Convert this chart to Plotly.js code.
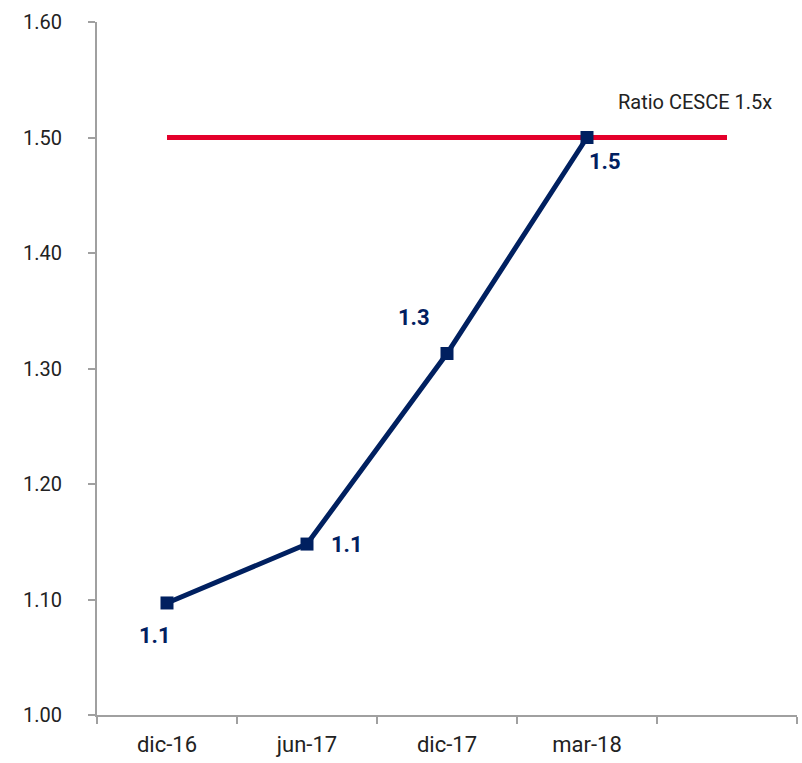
<!DOCTYPE html>
<html>
<head>
<meta charset="utf-8">
<script src="https://cdn.plot.ly/plotly-3.0.1.min.js"></script>
<style>html,body{margin:0;padding:0;background:#fff}#chart{width:802px;height:763px}</style>
</head>
<body>
<div id="chart"></div>
<script>
const categories = ['dic-16', 'jun-17', 'dic-17', 'mar-18', ' '];
const ratioValues = [1.097, 1.148, 1.313, 1.50];
const ratioLabels = ['1.1', '1.1', '1.3', '1.5'];
const cesceLevel = [1.5, 1.5, 1.5, 1.5, 1.5];
const cesceLabel = 'Ratio CESCE 1.5x';
const yTicks = [1.0, 1.1, 1.2, 1.3, 1.4, 1.5, 1.6];

const navy = '#002060';
const red = '#e4002b';
const font = 'Roboto, "DejaVu Sans", sans-serif';

const traces = [
  {
    x: categories, y: cesceLevel, type: 'scatter', mode: 'lines',
    line: {color: red, width: 5}, hoverinfo: 'skip'
  },
  {
    x: categories.slice(0, ratioValues.length), y: ratioValues, type: 'scatter', mode: 'lines+markers',
    line: {color: navy, width: 5}, marker: {symbol: 'square', size: 13, color: navy}
  }
];

const offsets = [[-12, -33], [40, 0], [-33, 36], [18, -24]];
const annotations = ratioValues.map((v, i) => ({
  x: categories[i], y: v, text: '<b>' + ratioLabels[i] + '</b>', showarrow: false,
  xshift: offsets[i][0], yshift: offsets[i][1],
  font: {family: font, size: 22, color: navy}
}));
annotations.push({
  x: categories[4], y: cesceLevel[4], text: cesceLabel, showarrow: false,
  xanchor: 'right', xshift: 47, yshift: 36,
  font: {family: font, size: 20, color: '#222'}
});

const layout = {
  width: 802, height: 763,
  margin: {l: 97, r: 5, t: 22, b: 48},
  paper_bgcolor: '#fff', plot_bgcolor: '#fff',
  showlegend: false,
  font: {family: font, size: 20, color: '#222'},
  xaxis: {
    type: 'category', categoryorder: 'array', categoryarray: categories,
    range: [-0.5, 4.5], showgrid: false, zeroline: false,
    showline: true, linecolor: '#a0a0a0', linewidth: 2,
    ticks: 'outside', tickson: 'boundaries', ticklen: 7, tickcolor: '#a0a0a0', tickwidth: 2,
    tickfont: {family: font, size: 22, color: '#222'}, ticklabelstandoff: 9
  },
  yaxis: {
    range: [1.0, 1.6], tickvals: yTicks, tickformat: '.2f',
    showgrid: false, zeroline: false,
    showline: true, linecolor: '#a0a0a0', linewidth: 2,
    ticks: 'outside', ticklen: 7, tickcolor: '#a0a0a0', tickwidth: 2,
    tickfont: {family: font, size: 20, color: '#222'}, ticklabelstandoff: 22
  },
  annotations: annotations
};

Plotly.newPlot('chart', traces, layout, {displayModeBar: false, staticPlot: true});
</script>
</body>
</html>
